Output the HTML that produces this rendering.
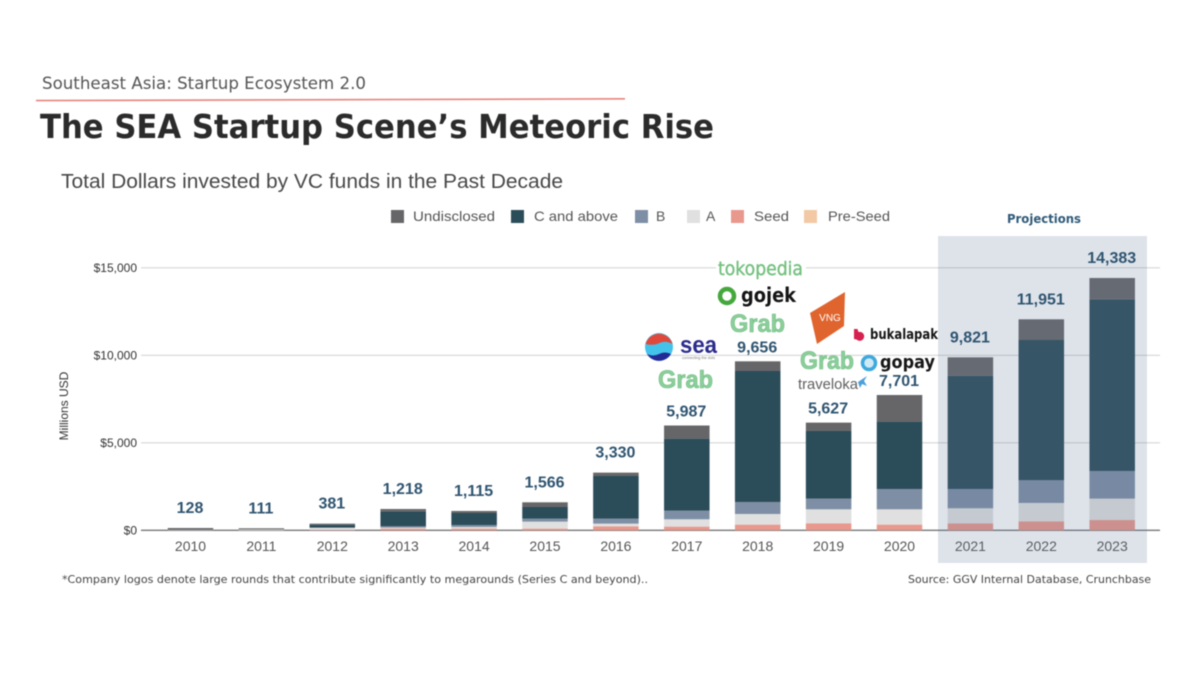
<!DOCTYPE html>
<html lang="en">
<head>
<meta charset="utf-8">
<title>The SEA Startup Scene's Meteoric Rise</title>
<style>
html,body{margin:0;padding:0;background:#fff;width:1200px;height:675px;overflow:hidden}
svg{display:block;filter:blur(.45px);font-family:"Liberation Sans",sans-serif}
</style>
</head>
<body>
<svg id="chart" width="1200" height="675" viewBox="0 0 1200 675" xmlns="http://www.w3.org/2000/svg">
  <g>
    <text x="42" y="89" font-size="17" fill="#555" font-family="'DejaVu Sans',sans-serif" textLength="324" lengthAdjust="spacingAndGlyphs">Southeast Asia: Startup Ecosystem 2.0</text>
    <line x1="36" y1="100.6" x2="625" y2="98.8" stroke="#e8857c" stroke-width="1.6"/>
    <text x="40" y="138" font-size="33" font-weight="700" fill="#2b2b2b" font-family="'DejaVu Sans',sans-serif" textLength="674" lengthAdjust="spacingAndGlyphs">The SEA Startup Scene’s Meteoric Rise</text>
    <text x="61" y="188" font-size="20" fill="#484848" textLength="502" lengthAdjust="spacingAndGlyphs">Total Dollars invested by VC funds in the Past Decade</text>
  </g>

  <g font-size="14" fill="#555">
    <rect x="391" y="210" width="13" height="13" fill="#666668"/>
    <text x="413" y="221" textLength="82" lengthAdjust="spacingAndGlyphs">Undisclosed</text>
    <rect x="511" y="210" width="13" height="13" fill="#2b4c59"/>
    <text x="534" y="221" textLength="84" lengthAdjust="spacingAndGlyphs">C and above</text>
    <rect x="635" y="210" width="13" height="13" fill="#7e8fa5"/>
    <text x="656" y="221">B</text>
    <rect x="687" y="210" width="13" height="13" fill="#e0e0e0"/>
    <text x="706" y="221">A</text>
    <rect x="731" y="210" width="13" height="13" fill="#e8988c"/>
    <text x="754" y="221" textLength="35" lengthAdjust="spacingAndGlyphs">Seed</text>
    <rect x="804" y="210" width="13" height="13" fill="#f3c9a5"/>
    <text x="828" y="221" textLength="62" lengthAdjust="spacingAndGlyphs">Pre-Seed</text>
  </g>

  <text transform="translate(68,406) rotate(-90)" text-anchor="middle" font-size="12" fill="#333">Millions USD</text>

  <g id="grid"></g>
  <g id="yticks"></g>
  <g id="bars"></g>
  <g id="xticks"></g>

  <rect x="938" y="236" width="209" height="327" fill="rgb(100,121,155)" fill-opacity="0.21"/>
  <text x="1044" y="223" text-anchor="middle" font-size="12" font-weight="700" fill="#2f5a78" font-family="'DejaVu Sans',sans-serif" textLength="74" lengthAdjust="spacingAndGlyphs">Projections</text>

  <g id="totals"></g>

  <g>
    <rect x="716" y="260" width="90" height="18" fill="#fff"/>
    <text x="718" y="275" font-size="19" stroke="#74c07f" stroke-width=".4" fill="#74c07f" font-family="'DejaVu Sans',sans-serif" textLength="85" lengthAdjust="spacingAndGlyphs">tokopedia</text>
    <circle cx="727" cy="296" r="7" fill="#fff" stroke="#45a83c" stroke-width="4.5"/>
    <text x="741" y="302" font-size="20" font-weight="700" fill="#141414" font-family="'DejaVu Sans',sans-serif" textLength="55" lengthAdjust="spacingAndGlyphs">gojek</text>
    <text x="730" y="332" font-size="25" font-weight="700" fill="#8ccf9b" stroke="#6dbb80" stroke-width=".6" textLength="55" lengthAdjust="spacingAndGlyphs">Grab</text>

    <g>
      <circle cx="659" cy="347" r="14" fill="#43c3ea"/>
      <path d="M645.5 344a14 14 0 0 1 27 0q-7-4-13-1t-14 1z" fill="#e0483c"/>
      <path d="M647 354q6 3 12 0t12 0a14 14 0 0 1-24 0z" fill="#232a96"/>
    </g>
    <text x="680" y="353" font-size="24" font-weight="700" fill="#2b2b8c" textLength="37" lengthAdjust="spacingAndGlyphs">sea</text>
    <text x="682" y="359" font-size="4" fill="#777" textLength="33" lengthAdjust="spacingAndGlyphs">connecting the dots</text>
    <text x="658" y="388" font-size="25" font-weight="700" fill="#8ccf9b" stroke="#6dbb80" stroke-width=".6" textLength="55" lengthAdjust="spacingAndGlyphs">Grab</text>

    <polygon points="810,313 845,292 844,326 817,344" fill="#df642e"/>
    <text x="830" y="321" text-anchor="middle" font-size="10" fill="#fff">VNG</text>
    <path d="M854 329h3.5l1 3a4.5 4.5 0 1 1-2 7.5l-2.500-.5z" fill="#d6204f"/>
    <text x="870" y="339" font-size="14" font-weight="700" fill="#161616" font-family="'DejaVu Sans',sans-serif" textLength="68" lengthAdjust="spacingAndGlyphs">bukalapak</text>
    <text x="800" y="369" font-size="25" font-weight="700" fill="#8ccf9b" stroke="#6dbb80" stroke-width=".6" textLength="54" lengthAdjust="spacingAndGlyphs">Grab</text>
    <circle cx="869" cy="363" r="6.5" fill="#cfeaf6" stroke="#3fa9dc" stroke-width="3.5"/>
    <text x="880" y="368" font-size="18" font-weight="700" fill="#161616" font-family="'DejaVu Sans',sans-serif" textLength="55" lengthAdjust="spacingAndGlyphs">gopay</text>
    <text x="798" y="389" font-size="15" fill="#5f5f5f" textLength="60" lengthAdjust="spacingAndGlyphs">traveloka</text>
    <polygon points="858,382 867,376 864,381 867,386 862,384 860,388" fill="#4a9fdc"/>
  </g>

  <text x="62" y="583" font-size="11" fill="#444" font-family="'DejaVu Sans',sans-serif" textLength="586" lengthAdjust="spacingAndGlyphs">*Company logos denote large rounds that contribute significantly to megarounds (Series C and beyond)..</text>
  <text x="908" y="583" font-size="11" fill="#444" font-family="'DejaVu Sans',sans-serif" textLength="243" lengthAdjust="spacingAndGlyphs">Source: GGV Internal Database, Crunchbase</text>
</svg>

<script>
const years = ['2010','2011','2012','2013','2014','2015','2016','2017','2018','2019','2020','2021','2022','2023'];
const preSeed = [0,0,0,0,0,0,0,0,0,0,0,0,0,0];
const seed = [0,0,20,95,95,95,229,210,324,400,324,400,514,590];
const seriesA = [30,50,130,57,95,400,152,420,609,800,876,857,1048,1220];
const seriesB = [0,0,0,76,114,171,286,494,686,610,1162,1105,1295,1580];
const cAndAbove = [0,0,170,857,686,667,2438,4114,7484,3867,3848,6472,8017,9810];
const undisclosed = [100,65,60,133,115,267,190,749,553,476,1521,1052,1183,1217];
const totalLabels = ['128','111','381','1,218','1,115','1,566','3,330','5,987','9,656','5,627','7,701','9,821','11,951','14,383'];
const yTickValues = [0,5000,10000,15000];
const yTickLabels = ['$0','$5,000','$10,000','$15,000'];
const yearsWithLogos = ['2017','2018','2019','2020'];

const NS = 'http://www.w3.org/2000/svg';
const yScale = function (v) { return 530.3 - v * 0.0175; };
const xCenter = function (i) { return 190.5 + 70.9 * i; };
const BAR_WIDTH = 45.5;

const stackSeries = [
  { key: 'pre-seed', values: preSeed, color: '#f3c9a5' },
  { key: 'seed', values: seed, color: '#e8988c' },
  { key: 'a', values: seriesA, color: '#e0e0e0' },
  { key: 'b', values: seriesB, color: '#7e8fa5' },
  { key: 'c-and-above', values: cAndAbove, color: '#2b4c59' },
  { key: 'undisclosed', values: undisclosed, color: '#666668' }
];

const grid = document.getElementById('grid');
const yticks = document.getElementById('yticks');
yTickValues.forEach(function (v, i) {
  const line = document.createElementNS(NS, 'line');
  
  
  line.setAttribute('x1', 141);
  line.setAttribute('x2', 1160);
  line.setAttribute('y1', yScale(v));
  line.setAttribute('y2', yScale(v));
  line.setAttribute('stroke', v === 0 ? '#777' : '#d6d6d6');
  line.setAttribute('stroke-width', v === 0 ? 1.4 : 1.2);
  grid.appendChild(line);

  const label = document.createElementNS(NS, 'text');
  
  
  label.setAttribute('x', 137);
  label.setAttribute('y', yScale(v) + 4);
  label.setAttribute('text-anchor', 'end');
  label.setAttribute('font-size', 12);
  label.setAttribute('fill', '#333');
  label.textContent = yTickLabels[i];
  yticks.appendChild(label);
});

const barsGroup = document.getElementById('bars');
const xticks = document.getElementById('xticks');
const totalsGroup = document.getElementById('totals');
years.forEach(function (year, i) {
  let running = 0;
  stackSeries.forEach(function (series) {
    const value = series.values[i];
    if (value <= 0) { return; }
    const rect = document.createElementNS(NS, 'rect');
    
    
    rect.setAttribute('x', xCenter(i) - BAR_WIDTH / 2);
    rect.setAttribute('y', yScale(running + value));
    rect.setAttribute('width', BAR_WIDTH);
    rect.setAttribute('height', yScale(running) - yScale(running + value));
    rect.setAttribute('fill', series.color);
    barsGroup.appendChild(rect);
    running += value;
  });

  const yearLabel = document.createElementNS(NS, 'text');
  
  
  yearLabel.setAttribute('x', xCenter(i));
  yearLabel.setAttribute('y', 551);
  yearLabel.setAttribute('text-anchor', 'middle');
  yearLabel.setAttribute('font-size', 14);
  yearLabel.setAttribute('fill', '#555');
  yearLabel.textContent = year;
  xticks.appendChild(yearLabel);

  const gap = yearsWithLogos.indexOf(year) >= 0 ? 14 : 20;
  const total = document.createElementNS(NS, 'text');
  
  
  total.setAttribute('x', xCenter(i) - 0.5);
  total.setAttribute('y', yScale(running) - gap + 5);
  total.setAttribute('text-anchor', 'middle');
  total.setAttribute('font-size', 16);
  total.setAttribute('font-weight', '700');
  total.setAttribute('fill', '#2f5470');
  total.textContent = totalLabels[i];
  totalsGroup.appendChild(total);
});
</script>
</body>
</html>
